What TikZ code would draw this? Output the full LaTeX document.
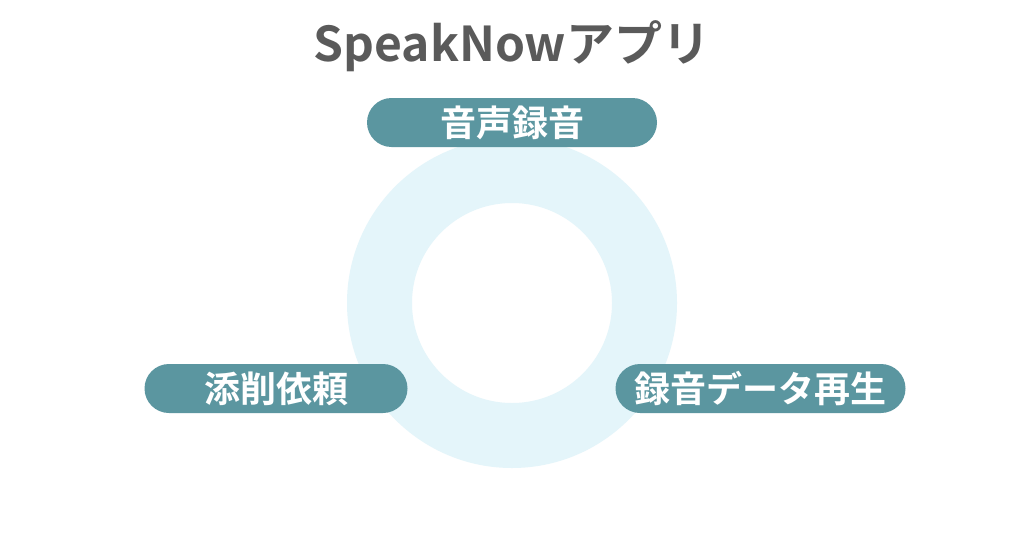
\documentclass[tikz,border=0pt]{standalone}
\usepackage{fontspec}
\setmainfont{Noto Sans CJK JP}[BoldFont={Noto Sans CJK JP Bold}]
\definecolor{pillc}{RGB}{91,150,160}
\definecolor{ringc}{RGB}{228,245,250}
\definecolor{titlec}{RGB}{90,90,90}
\begin{document}
\begin{tikzpicture}[x=1pt,y=-1pt,
  pill/.style={fill=pillc,text=white,rounded corners=24.5pt,minimum height=49pt,inner sep=0pt,font=\fontsize{36}{42}\selectfont\bfseries}]
\useasboundingbox (0,0) rectangle (1024,538);
\fill[white] (0,0) rectangle (1024,538);
\draw[ringc,line width=65pt] (512,303) circle[radius=132.5];
\node[font=\fontsize{48}{54}\selectfont\bfseries,text=titlec] (title) at (512,46) {SpeakNowアプリ};
\node[pill,minimum width=290pt] (rec) at (512,122.5) {音声録音};
\node[pill,minimum width=263pt] (req) at (276,388.5) {添削依頼};
\node[pill,minimum width=290pt] (play) at (760.5,388.5) {録音データ再生};
\end{tikzpicture}
\end{document}
